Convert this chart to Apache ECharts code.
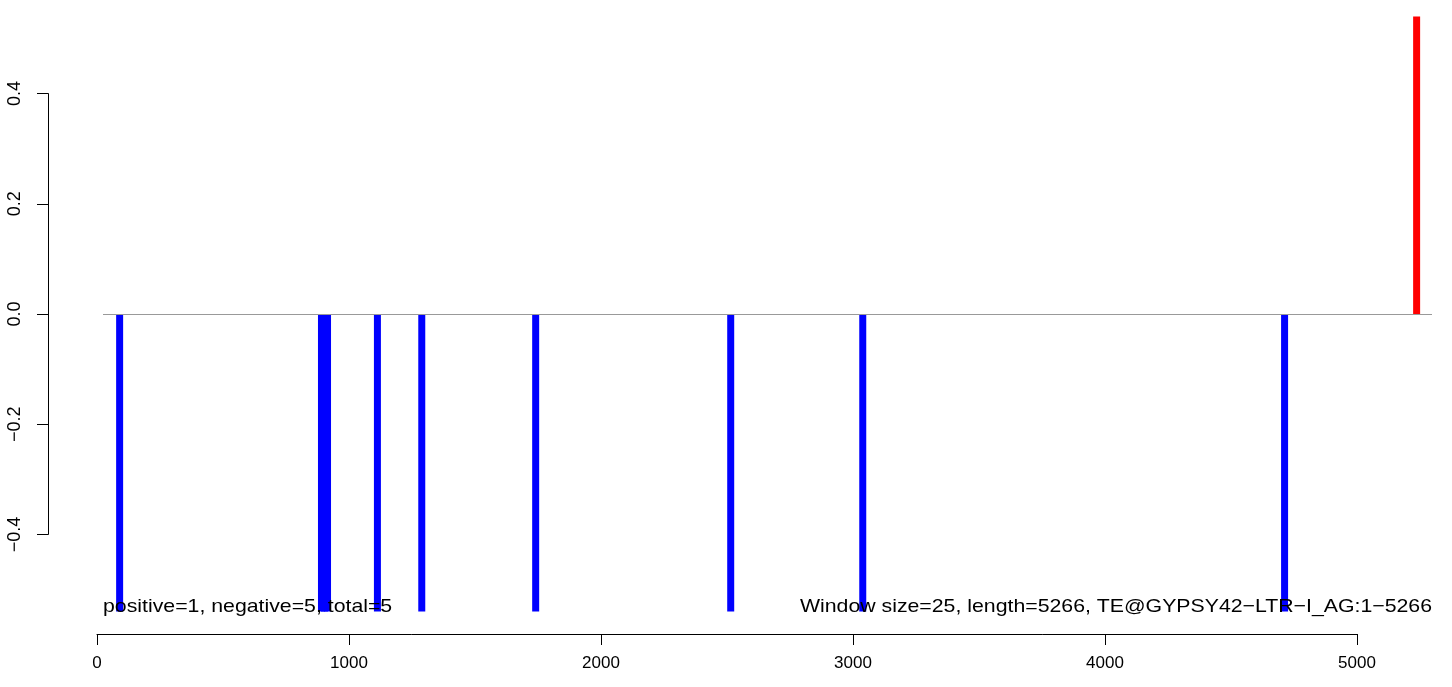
<!DOCTYPE html>
<html>
<head>
<meta charset="utf-8">
<script src="https://cdn.jsdelivr.net/npm/echarts@6/dist/echarts.min.js"></script>
<style>html,body{margin:0;padding:0;background:#fff}#c{width:1452px;height:687px}</style>
</head>
<body>
<div id="c"></div>
<script>
// Data
const negativePositions = [90, 891, 903, 915, 1113, 1289, 1741, 2515, 3039, 4713];
const negativeValues = [-0.54, -0.54, -0.54, -0.54, -0.54, -0.54, -0.54, -0.54, -0.54, -0.54];
const positivePositions = [5237];
const positiveValues = [0.54];
const xTicks = [0, 1000, 2000, 3000, 4000, 5000];
const yTicks = [-0.4, -0.2, 0.0, 0.2, 0.4];
const leftNote = 'positive=1, negative=5, total=5';
const rightNote = 'Window size=25, length=5266, TE@GYPSY42\u2212LTR\u2212I_AG:1\u22125266';

const FONT = '"Liberation Sans", Arial, Helvetica, sans-serif';
const barData = [];
negativePositions.forEach((x, i) => barData.push({ value: [x, negativeValues[i]], itemStyle: { color: '#0000FF' } }));
positivePositions.forEach((x, i) => barData.push({ value: [x, positiveValues[i]], itemStyle: { color: '#FF0000' } }));

const chart = echarts.init(document.getElementById('c'), null, { renderer: 'canvas' });
const option = {
  animation: false,
  backgroundColor: '#ffffff',
  grid: [
    { left: 103, right: 20, top: 5.4, height: 617.1 },   // plot region
    { left: 97, width: 1260, top: 633, height: 1 },        // x axis
    { left: 48, width: 1, top: 93.6, height: 440.8 }       // y axis
  ],
  xAxis: [
    { gridIndex: 0, type: 'value', min: 24, max: 5298, show: false },
    { gridIndex: 1, type: 'value', min: xTicks[0], max: xTicks[xTicks.length - 1], interval: 1000,
      position: 'bottom',
      axisLine: { show: true, onZero: false, lineStyle: { color: '#000', width: 1 } },
      axisTick: { show: true, length: 11, lineStyle: { color: '#000', width: 1 } },
      axisLabel: { show: true, margin: 21, color: '#000', fontSize: 17, fontFamily: FONT,
        formatter: v => String(v), showMinLabel: true, showMaxLabel: true },
      splitLine: { show: false } },
    { gridIndex: 2, type: 'value', show: false }
  ],
  yAxis: [
    { gridIndex: 0, type: 'value', min: -0.56, max: 0.56, show: false },
    { gridIndex: 1, type: 'value', show: false },
    { gridIndex: 2, type: 'value', min: yTicks[0], max: yTicks[yTicks.length - 1], interval: 0.2,
      position: 'left',
      axisLine: { show: true, onZero: false, lineStyle: { color: '#000', width: 1 } },
      axisTick: { show: true, length: 11, lineStyle: { color: '#000', width: 1 } },
      axisLabel: { show: true, margin: 24, rotate: 90, color: '#000', fontSize: 18, fontFamily: FONT,
        formatter: v => (v < 0 ? '\u2212' : '') + Math.abs(v).toFixed(1), showMinLabel: true, showMaxLabel: true },
      splitLine: { show: false } }
  ],
  series: [
    {
      type: 'bar', xAxisIndex: 0, yAxisIndex: 0,
      barWidth: 7,
      data: barData,
      markLine: {
        silent: true, symbol: 'none', label: { show: false },
        lineStyle: { color: '#999999', width: 1.2, type: 'solid' },
        data: [{ yAxis: 0 }]
      },
      z: 3
    }
  ],
  graphic: [
    { type: 'text', x: 103, y: 597, scaleX: 1.15, z: 10,
      style: { text: leftNote, fill: '#000', font: '18.5px ' + FONT, align: 'left', verticalAlign: 'top' } },
    { type: 'text', x: 1432, y: 597, scaleX: 1.15, z: 10,
      style: { text: rightNote, fill: '#000', font: '18.5px ' + FONT, align: 'right', verticalAlign: 'top' } }
  ]
};
chart.setOption(option);
</script>
</body>
</html>
